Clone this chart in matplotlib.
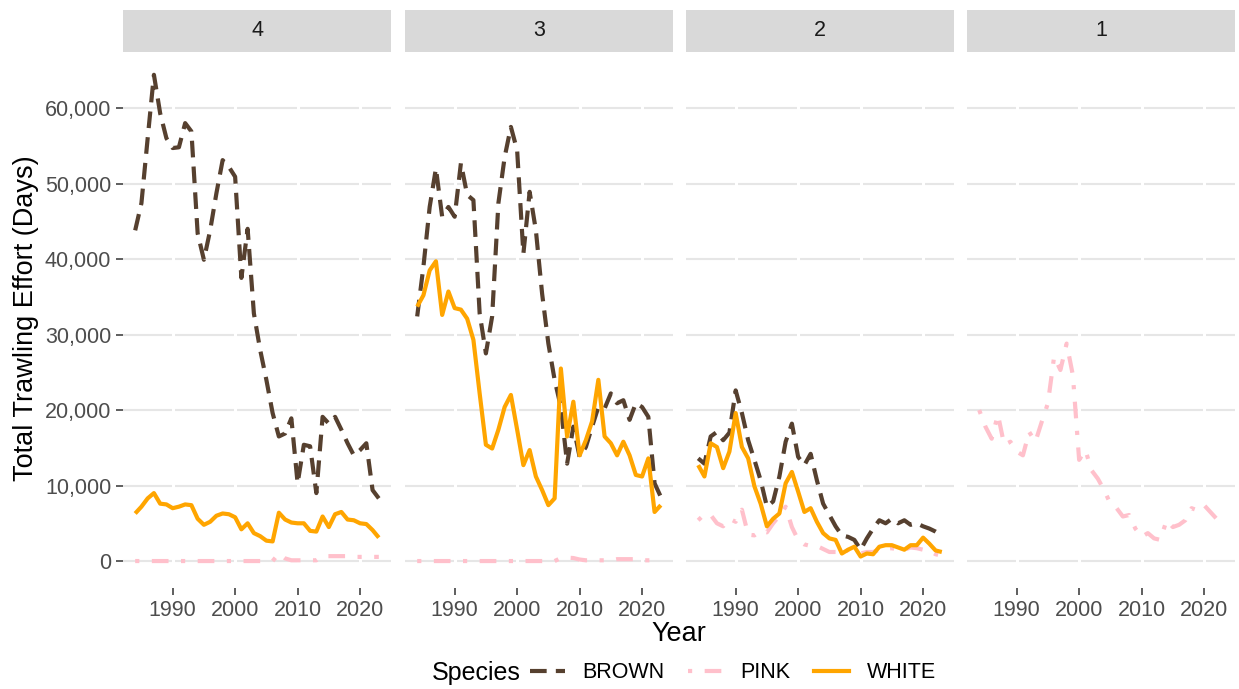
"""
Effort de chalutage par zone et par espèce
"""

import matplotlib.pyplot as plt
from matplotlib.lines import Line2D
from matplotlib.ticker import FuncFormatter

plt.rcParams['font.family'] = ['Liberation Sans', 'DejaVu Sans']

# Données
years = list(range(1984, 2024))
areas = ["4", "3", "2", "1"]

brown_4 = [43800, 47400, 56000, 64400, 59300, 56000, 54700, 54800, 58000, 56900,
           43400, 39900, 43800, 48700, 53100, 52200, 50900, 37500, 44000, 32800,
           28000, 24000, 19600, 16500, 16900, 18900, 10300, 15400, 15200, 9000,
           19100, 18200, 19100, 17400, 15600, 14000, 14700, 15600, 9400, 8300]
white_4 = [6300, 7200, 8300, 9000, 7600, 7500, 7000, 7200, 7500, 7400,
           5600, 4800, 5200, 6000, 6300, 6200, 5800, 4200, 5000, 3700,
           3300, 2700, 2600, 6400, 5500, 5100, 5000, 5000, 4000, 3900,
           5900, 4500, 6200, 6500, 5500, 5400, 5000, 4900, 4100, 3100]
pink_4 = [0, 0, 0, 0, 0, 0, 0, 0, 0, 0,
          0, 0, 0, 0, 0, 0, 0, 0, 0, 0,
          0, 0, 0, 1000, 350, 100, 100, 100, 100, 100,
          650, 650, 650, 650, 650, 550, 550, 550, 550, 550]

brown_3 = [32400, 39000, 46900, 52000, 45600, 46900, 45600, 52700, 48500, 47800,
           32800, 27500, 32400, 47400, 53500, 57500, 54400, 40700, 48900, 43800,
           35400, 28800, 24000, 20400, 12900, 17800, 13800, 15100, 17800, 20400,
           20200, 22200, 20900, 21300, 18700, 20900, 20400, 19100, 10300, 8500]
white_3 = [33700, 35200, 38500, 39700, 32600, 35700, 33500, 33300, 32100, 29300,
           22200, 15400, 14900, 17400, 20400, 22000, 17400, 12700, 14700, 11200,
           9400, 7400, 8300, 25500, 16500, 21100, 14000, 16000, 18500, 24000,
           16500, 15600, 14000, 15800, 14000, 11400, 11200, 13600, 6500, 7400]
pink_3 = [0, 0, 0, 0, 0, 0, 0, 0, 0, 0,
          0, 0, 0, 0, 0, 0, 0, 0, 0, 0,
          0, 0, 0, 400, 450, 400, 200, 100, 100, 100,
          100, 100, 250, 250, 250, 250, 100, 100, 100, 100]

brown_2 = [13600, 12900, 16500, 17100, 16000, 17000, 22600, 19600, 16000, 13400,
           10700, 7200, 7900, 11200, 15800, 18200, 13800, 12700, 14200, 10700,
           7600, 6100, 4600, 3400, 3200, 2800, 1500, 3000, 4300, 5400,
           5000, 5600, 5000, 5400, 4800, 5000, 4600, 4300, 3900, 3400]
white_2 = [12700, 11200, 15600, 15100, 12300, 14500, 19600, 15100, 13600, 9900,
           7600, 4600, 5600, 6300, 10300, 11800, 9200, 6500, 7000, 5200,
           3700, 3000, 2800, 1000, 1500, 1900, 600, 1000, 900, 1900,
           2100, 2100, 1800, 1500, 2100, 2100, 3100, 2300, 1400, 1200]
pink_2 = [5400, 6200, 6100, 5000, 4600, 5600, 5200, 6800, 3500, 3400,
          4000, 3800, 5000, 6000, 7200, 4500, 2800, 2200, 2000, 2000,
          1600, 1200, 1200, 800, 1500, 1300, 1000, 1200, 1200, 1500,
          1600, 1700, 1500, 1500, 1800, 1700, 1500, 1400, 900, 700]

pink_1 = [20000, 17800, 16200, 19400, 15400, 15800, 14500, 14000, 17100, 15800,
          18400, 20900, 27100, 25300, 28800, 24600, 13400, 14700, 12000, 10900,
          9400, 7600, 7000, 5900, 6100, 4300, 3200, 3700, 3000, 2800,
          5400, 4500, 4800, 5400, 7000, 6700, 7400, 6500, 5600, 5400]

series = {
    "4": {"BROWN": brown_4, "PINK": pink_4, "WHITE": white_4},
    "3": {"BROWN": brown_3, "PINK": pink_3, "WHITE": white_3},
    "2": {"BROWN": brown_2, "PINK": pink_2, "WHITE": white_2},
    "1": {"PINK": pink_1},
}

# Styles
lw = 3.0
styles = {
    "BROWN": dict(color="#56402F", linestyle=(0, (4, 2.2))),
    "PINK": dict(color="#FFC0CB", linestyle=(0, (1, 3, 4, 3))),
    "WHITE": dict(color="#FFA500", linestyle="-"),
}

W, H = 1239, 689
fig = plt.figure(figsize=(W / 100, H / 100), dpi=100)

lefts = [123, 405, 686, 967]
pw = 268
ptop, pbot = 52, 588
stop = 10

for i, area in enumerate(areas):
    ax = fig.add_axes([lefts[i] / W, (H - pbot) / H, pw / W, (pbot - ptop) / H])
    ax.set_xlim(1982.05, 2024.95)
    ax.set_ylim(-3570, 67420)
    for sp in ax.spines.values():
        sp.set_visible(False)

    # grille : lignes horizontales grises, coupées par des verticales blanches
    for yv in range(0, 70000, 10000):
        ax.axhline(yv, color="#E6E6E6", lw=1.5, zorder=0)
    for xv in [1990, 2000, 2010, 2020]:
        ax.axvline(xv, color="white", lw=2.2, zorder=0.5)

    for sp_name in ["BROWN", "PINK", "WHITE"]:
        if sp_name in series[area]:
            ax.plot(years, series[area][sp_name], lw=lw, solid_capstyle="butt",
                    dash_capstyle="butt", zorder=2, **styles[sp_name])

    ax.set_xticks([1990, 2000, 2010, 2020])
    ax.set_yticks(range(0, 70000, 10000))
    ax.yaxis.set_major_formatter(FuncFormatter(lambda v, p: f"{int(v):,}"))
    ax.tick_params(axis="both", length=4.9, width=1.1, color="#333333",
                   labelcolor="#4D4D4D", labelsize=15.5, pad=3.5)
    if i > 0:
        ax.tick_params(axis="y", left=False, labelleft=False)

    # bandeau de facette
    sax = fig.add_axes([lefts[i] / W, (H - ptop) / H, pw / W, (ptop - stop) / H])
    sax.set_facecolor("#D9D9D9")
    sax.set_xticks([])
    sax.set_yticks([])
    for sp in sax.spines.values():
        sp.set_visible(False)
    sax.text(0.5, 0.5, area, ha="center", va="center", fontsize=15.5,
             color="#1A1A1A", transform=sax.transAxes)

# Titres des axes
cx = (lefts[0] + lefts[-1] + pw) / 2 / W
fig.text(cx, 1 - 634 / H, "Year", ha="center", va="center", fontsize=19.5)
fig.text(26 / W, 1 - 318 / H, "Total Trawling Effort (Days)", ha="center",
         va="center", rotation=90, fontsize=19.5)

# Légende
fig.text(432 / W, 1 - 673 / H, "Species", ha="left", va="center", fontsize=18)
handles = [Line2D([], [], lw=lw, **styles[k]) for k in ["BROWN", "PINK", "WHITE"]]
fig.legend(handles, ["BROWN", "PINK", "WHITE"], ncol=3, frameon=False,
           loc="center left", bbox_to_anchor=(530 / W, 1 - 673 / H),
           fontsize=15.5, handlelength=1.63, handletextpad=0.8,
           columnspacing=1.1, borderaxespad=0, borderpad=0)

fig.savefig("out.png", dpi=100)
